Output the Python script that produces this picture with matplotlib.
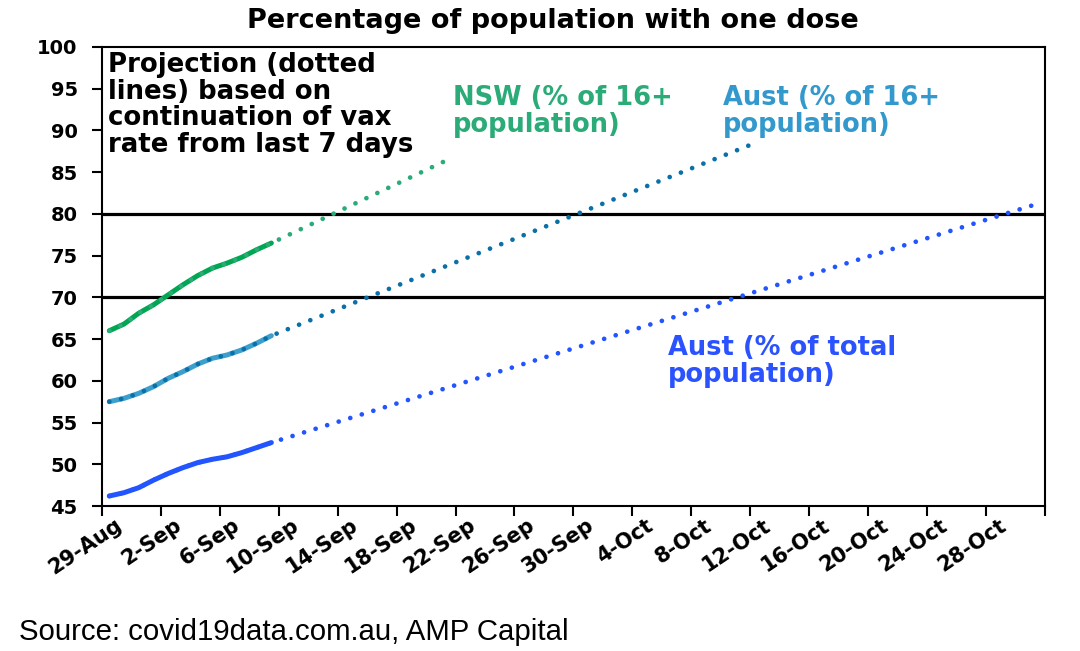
import matplotlib
matplotlib.use("Agg")
import matplotlib.pyplot as plt
import matplotlib.transforms as mtransforms
import pandas as pd

# actual daily values (29-Aug .. 9-Sep)
actual_dates = pd.date_range("2021-08-29", "2021-09-09", freq="D")
nsw_16 = [66.0, 66.8, 68.1, 69.1, 70.3, 71.5, 72.6, 73.5, 74.1, 74.8, 75.7, 76.5]
aus_16 = [57.5, 57.9, 58.5, 59.3, 60.3, 61.1, 62.0, 62.7, 63.1, 63.7, 64.5, 65.4]
aus_tot = [46.2, 46.6, 47.2, 48.1, 48.9, 49.6, 50.2, 50.6, 50.9, 51.4, 52.0, 52.6]

# end points of the projections
nsw_end = ("2021-09-21", 86.5)
aus_16_end = ("2021-10-12", 88.6)
aus_tot_end = ("2021-10-31", 81.2)

thresholds = [70, 80]
tick_dates = pd.date_range("2021-08-29", "2021-10-28", freq="4D")
start = pd.Timestamp("2021-08-29")

series = [
    (nsw_16, nsw_end, "#00a651", "#2aab78"),
    (aus_16, aus_16_end, "#3d9fcc", "#0a70aa"),
    (aus_tot, aus_tot_end, "#2255ff", "#2255ff"),
]

fig = plt.figure(figsize=(10.8, 6.51), dpi=100)
ax = fig.add_axes([0.0944, 0.2227, 0.873, 0.7053])

x_act = [(d - start).days for d in actual_dates]
for vals, end, c_solid, c_dot in series:
    ax.plot(x_act, vals, color=c_solid, lw=3.6, solid_capstyle="round", zorder=3)
    x_end = (pd.Timestamp(end[0]) - start).days
    ax.plot(x_act + [x_end], vals + [end[1]], color=c_dot, lw=3.4,
            linestyle=(0, (0.01, 2.55)), dash_capstyle="round", zorder=4)

for t in thresholds:
    ax.axhline(t, color="black", lw=2.3, zorder=2)

ax.set_ylim(45, 100)
ax.set_yticks(range(45, 101, 5))
ax.set_xlim(-0.5, 63.5)
xt = [(d - start).days - 0.5 for d in tick_dates] + [63.5]
ax.set_xticks(xt)
ax.set_xticklabels([])

bold = dict(family="DejaVu Sans", weight="bold")
for lab in ax.get_yticklabels():
    lab.set_fontsize(14)
    lab.set_fontfamily("DejaVu Sans")
    lab.set_fontweight("bold")

# rotated date labels, top-right end just right of each tick
lab_trans = (mtransforms.blended_transform_factory(ax.transData, ax.transAxes)
             + mtransforms.ScaledTranslation(13 / 100, -9 / 100, fig.dpi_scale_trans))
for pos, d in zip(xt, tick_dates):
    ax.text(pos, 0, f"{d.day}-{d.strftime('%b')}", transform=lab_trans,
            rotation=34, ha="right", va="top", rotation_mode="anchor",
            fontsize=15, clip_on=False, **bold)

ax.tick_params(axis="both", direction="out", length=7, width=1.5)
ax.tick_params(axis="y", pad=10.5)
for s in ax.spines.values():
    s.set_linewidth(1.5)

fig.text(0.512, 0.967, "Percentage of population with one dose", ha="center",
         va="center", fontsize=19.5, **bold)
ax.text(0.006, 0.988, "Projection (dotted\nlines) based on\ncontinuation of vax\nrate from last 7 days",
        transform=ax.transAxes, ha="left", va="top", fontsize=18.7,
        linespacing=1.02, color="black", **bold)
ax.text(0.372, 0.916, "NSW (% of 16+\npopulation)", transform=ax.transAxes,
        ha="left", va="top", fontsize=18.5, linespacing=1.02, color="#2aab78", **bold)
ax.text(0.659, 0.916, "Aust (% of 16+\npopulation)", transform=ax.transAxes,
        ha="left", va="top", fontsize=18.5, linespacing=1.02, color="#3399cc", **bold)
ax.text(0.6, 0.372, "Aust (% of total\npopulation)", transform=ax.transAxes,
        ha="left", va="top", fontsize=18.5, linespacing=1.02, color="#2a52ff", **bold)

fig.text(0.018, 0.017, "Source: covid19data.com.au, AMP Capital", ha="left",
         va="baseline", fontsize=21.2, family="Liberation Sans")

fig.savefig("out.png", dpi=100)
